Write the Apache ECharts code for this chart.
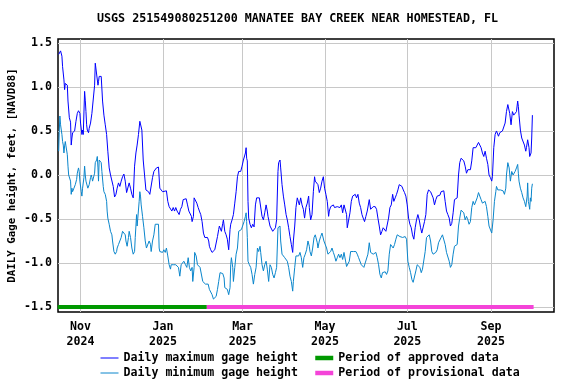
<!DOCTYPE html>
<html>
<head>
<meta charset="utf-8">
<script src="https://cdn.jsdelivr.net/npm/echarts@6/dist/echarts.min.js"></script>
<style>html,body{margin:0;padding:0;background:#fff}#c{width:576px;height:384px}</style>
</head>
<body>
<div id="c"></div>
<script>
// Days are counted from 2024-11-01 (day 0).
const titleText = 'USGS 251549080251200 MANATEE BAY CREEK NEAR HOMESTEAD, FL';
const yAxisName = 'DAILY Gage height, feet, [NAVD88]';
const tickDates = ['2024-11-01','2025-01-01','2025-03-01','2025-05-01','2025-07-01','2025-09-01'];
const tickMonths = ['Nov','Jan','Mar','May','Jul','Sep'];
const tickYears = ['2024','2025','2025','2025','2025','2025'];
const yTicks = [-1.5,-1.0,-0.5,0.0,0.5,1.0,1.5];
const axisStartDay = -16.7, axisEndDay = 350.6;
const yMin = -1.557, yMax = 1.545;
const approvedDays = [-16.9, 93.5];
const provisionalDays = [93.5, 335.5];
const periodLevel = -1.5;

const maxSeries = [
[-16.2,1.37],[-14.8,1.41],[-13.8,1.35],[-13.3,1.23],[-12.3,1.08],[-11.8,0.97],[-11.3,1.04],[-9.8,1.02],[-9.3,0.84],[-8.3,0.65],[-7.4,0.60],[-6.9,0.34],[-6.4,0.42],[-5.9,0.48],[-4.4,0.50],[-3.4,0.61],[-2.4,0.70],[-1.5,0.73],[-0.5,0.70],[0,0.59],[1.0,0.46],[1.5,0.51],[2.0,0.46],[3.0,0.95],[3.5,0.85],[4.0,0.72],[4.5,0.57],[5.0,0.51],[5.9,0.48],[6.4,0.53],[7.4,0.59],[8.4,0.70],[9.4,0.68],[10.4,1.02],[10.9,1.27],[11.9,1.25],[12.9,1.02],[13.3,1.06],[13.8,1.12],[15.3,1.12],[16.3,0.84],[17.3,0.68],[18.3,0.57],[19.3,0.46],[20.2,0.27],[21.2,0.08],[22.2,0.00],[23.2,-0.02],[24.2,-0.13],[25.2,-0.25],[26.2,-0.22],[27.1,-0.15],[28.1,-0.09],[29.1,-0.13],[30.1,-0.07],[31.1,-0.02],[32.1,0.01],[33.1,-0.07],[34.1,-0.20],[35.0,-0.19],[36.0,-0.09],[37.0,-0.15],[38.0,-0.22],[39.0,-0.26],[40.0,0.10],[41.0,0.25],[41.9,0.34],[42.9,0.46],[43.9,0.61],[44.4,0.63],[45.4,0.51],[46.4,0.17],[47.4,0.00],[48.4,-0.17],[49.3,-0.19],[50.3,-0.19],[51.3,-0.22],[52.3,-0.22],[53.3,-0.03],[54.3,0.04],[55.3,0.06],[56.2,0.08],[57.7,0.09],[58.7,-0.15],[59.7,-0.16],[60.7,-0.19],[61.7,-0.17],[63.6,-0.18],[64.6,-0.30],[65.6,-0.36],[66.6,-0.34],[67.6,-0.41],[68.6,-0.37],[69.6,-0.41],[70.5,-0.37],[71.5,-0.41],[73.0,-0.45],[74.0,-0.39],[75.0,-0.36],[76.0,-0.28],[76.9,-0.27],
[78.2,-0.27],[79.2,-0.34],[80.2,-0.41],[81.1,-0.39],[82.1,-0.47],[82.6,-0.53],[83.6,-0.47],[84.1,-0.26],[85.1,-0.28],[86.1,-0.32],[87.1,-0.37],[88.0,-0.41],[89.0,-0.45],[90.0,-0.53],[91.0,-0.66],[92.0,-0.71],[93.0,-0.70],[94.0,-0.71],[94.9,-0.75],[95.4,-0.81],[96.4,-0.85],[97.4,-0.88],[98.4,-0.87],[99.4,-0.85],[100.4,-0.83],[101.4,-0.70],[102.3,-0.62],[102.8,-0.58],[103.8,-0.56],[104.3,-0.64],[105.3,-0.55],[105.8,-0.51],[106.8,-0.64],[107.8,-0.68],[108.7,-0.73],[109.7,-0.85],[110.7,-0.62],[111.2,-0.56],[112.2,-0.51],[113.2,-0.45],[114.2,-0.32],[115.2,-0.19],[116.2,-0.02],[117.1,0.04],[118.6,0.04],[119.6,0.10],[120.6,0.17],[121.6,0.19],[122.1,0.25],[122.6,0.31],[123.0,0.19],[123.5,0.16],[124.0,-0.30],[124.5,-0.49],[125.5,-0.56],[126.5,-0.60],[127.5,-0.56],[128.5,-0.59],[129.5,-0.34],[130.4,-0.26],[131.4,-0.28],[132.4,-0.26],[133.4,-0.28],[134.4,-0.47],[135.4,-0.51],[136.4,-0.43],[137.4,-0.34],[138.3,-0.41],[138.8,-0.47],[139.8,-0.49],[140.3,-0.58],[141.3,-0.60],[142.3,-0.64],[143.3,-0.62],[144.3,-0.60],[145.2,-0.51],[146.2,0.04],[146.7,0.14],[147.7,0.17],[148.2,0.08],[149.2,-0.11],[150.2,-0.24],[151.2,-0.34],[152.2,-0.45],[153.1,-0.51],[154.1,-0.60],[155.1,-0.70],[156.1,-0.79],[157.1,-0.88],[157.6,-0.75],[158.6,-0.58],[159.5,-0.37],[160.5,-0.26],[161.5,-0.26],[162.0,-0.34],[163.0,-0.26],[164.0,-0.34],[165.0,-0.39],[165.9,-0.49],[166.9,-0.37],[167.9,-0.32],[168.9,-0.24],[169.4,-0.37],
[170.4,-0.51],[171.4,-0.45],[172.4,-0.19],[173.3,-0.02],[173.8,-0.07],[174.8,-0.05],[175.8,-0.11],[176.8,-0.20],[177.8,-0.15],[178.8,-0.07],[179.8,-0.02],[180.7,-0.15],[181.7,-0.22],[182.7,-0.30],[183.7,-0.47],[184.2,-0.41],[185.2,-0.36],[186.2,-0.37],[187.2,-0.34],[188.1,-0.37],[189.1,-0.38],[190.1,-0.36],[191.1,-0.34],[192.1,-0.37],[193.1,-0.34],[194.1,-0.43],[195.1,-0.34],[196.0,-0.34],[197.0,-0.45],[197.5,-0.60],[198.5,-0.58],[199.5,-0.43],[200.5,-0.30],[201.5,-0.24],[202.5,-0.26],[203.4,-0.22],[204.4,-0.26],[205.4,-0.22],[206.4,-0.32],[207.4,-0.37],[208.4,-0.45],[209.3,-0.49],[210.3,-0.53],[211.3,-0.47],[212.3,-0.41],[213.3,-0.43],[213.8,-0.28],[214.8,-0.39],[215.8,-0.37],[216.7,-0.36],[218.2,-0.36],[219.2,-0.39],[220.2,-0.49],[221.2,-0.58],[222.2,-0.68],[223.2,-0.64],[224.1,-0.60],[225.1,-0.62],[226.1,-0.64],[227.1,-0.62],[228.1,-0.49],[229.1,-0.37],[230.1,-0.34],[231.1,-0.22],[232.0,-0.30],[233.0,-0.26],[234.0,-0.22],[235.0,-0.17],[236.0,-0.11],[237.0,-0.10],[238.0,-0.13],[239.0,-0.17],[239.9,-0.20],[240.9,-0.24],[241.9,-0.34],[242.9,-0.49],[243.9,-0.56],[244.9,-0.60],[245.8,-0.68],[246.8,-0.73],[247.8,-0.60],[248.8,-0.51],[249.8,-0.45],[250.8,-0.51],[251.8,-0.60],[252.7,-0.66],[253.7,-0.68],[254.7,-0.53],[255.7,-0.45],[256.7,-0.22],[257.7,-0.17],[258.7,-0.15],
[259.2,-0.19],[260.1,-0.20],[261.1,-0.26],[262.1,-0.34],[263.1,-0.28],[264.1,-0.24],[265.1,-0.22],[266.1,-0.23],[267.0,-0.19],[268.0,-0.17],[269.0,-0.18],[270.0,-0.30],[271.0,-0.41],[272.0,-0.45],[273.0,-0.49],[273.9,-0.58],[274.9,-0.55],[275.9,-0.43],[276.9,-0.28],[277.9,-0.26],[278.9,-0.26],[279.9,0.00],[280.8,0.14],[281.8,0.19],[282.8,0.21],[283.8,0.16],[284.8,0.10],[285.8,0.02],[286.8,0.06],[287.7,0.04],[288.7,0.06],[289.7,0.16],[290.7,0.31],[291.7,0.29],[292.7,0.31],[293.7,0.34],[294.7,0.37],[295.6,0.36],[296.6,0.31],[297.6,0.25],[298.6,0.21],[299.6,0.27],[300.6,0.19],[301.6,0.12],[302.5,0.00],[303.5,-0.03],[304.5,-0.07],[305.0,-0.02],[306.0,0.31],[307.0,0.46],[308.0,0.50],[309.0,0.51],[309.5,0.44],[310.4,0.48],[311.4,0.48],[312.4,0.50],[313.4,0.51],[314.4,0.59],[315.4,0.72],[316.4,0.80],[317.4,0.79],[317.8,0.70],[318.8,0.57],[319.8,0.72],[320.8,0.68],[321.8,0.67],[322.8,0.72],[323.7,0.84],[324.2,0.78],[324.7,0.68],[325.7,0.51],[326.7,0.42],[327.7,0.40],[328.7,0.34],[329.7,0.27],[330.2,0.31],[331.1,0.40],[332.1,0.31],[332.6,0.21],[333.6,0.25],[334.1,0.42],[334.6,0.68]
];

const minSeries = [
[-16.2,0.27],[-15.8,0.48],[-15.3,0.67],[-14.8,0.57],[-14.3,0.59],[-13.8,0.46],[-13.3,0.38],[-12.8,0.34],[-12.3,0.25],[-11.8,0.33],[-11.3,0.38],[-10.8,0.33],[-10.3,0.31],[-9.8,0.23],[-9.3,0.10],[-8.8,0.00],[-7.9,-0.02],[-7.4,-0.07],[-6.9,-0.22],[-6.4,-0.15],[-5.9,-0.19],[-4.9,-0.15],[-3.9,-0.11],[-2.9,-0.05],[-2.4,0.02],[-1.5,0.08],[-1.0,0.04],[-0.5,-0.07],[0.5,-0.19],[1.0,-0.24],[1.5,-0.15],[2.5,-0.03],[3.0,0.10],[3.5,0.00],[4.0,-0.07],[4.5,-0.09],[5.4,-0.15],[5.9,-0.17],[6.4,-0.11],[7.4,-0.03],[7.9,0.00],[8.4,-0.03],[8.9,-0.07],[9.9,-0.07],[10.4,0.02],[10.9,0.14],[11.9,0.17],[12.4,0.21],[12.9,0.08],[13.3,-0.07],[13.8,0.17],[14.8,0.19],[15.3,0.14],[15.8,0.04],[16.8,-0.13],[17.3,-0.19],[18.3,-0.22],[19.3,-0.30],[19.7,-0.41],[20.2,-0.49],[21.2,-0.56],[22.2,-0.64],[23.2,-0.68],[23.7,-0.75],[24.7,-0.87],[25.7,-0.90],[26.7,-0.87],[27.1,-0.83],[28.1,-0.79],[29.1,-0.77],[30.1,-0.71],[31.1,-0.64],[32.1,-0.64],[33.1,-0.68],[33.6,-0.75],[34.5,-0.81],[35.5,-0.71],[36.0,-0.64],[37.0,-0.71],[38.0,-0.83],[39.0,-0.90],[40.0,-0.87],[40.5,-0.71],[41.5,-0.45],[41.9,-0.58],[42.4,-0.49],[43.4,-0.30],[43.9,-0.19],[44.4,-0.24],[44.9,-0.34],[45.9,-0.47],[46.9,-0.60],[47.9,-0.75],[48.8,-0.83],[49.8,-0.83],[50.8,-0.75],[51.8,-0.79],[52.3,-0.87],[53.3,-0.75],[54.3,-0.68],[55.3,-0.56],[56.2,-0.56],[57.7,-0.56],[58.2,-0.83],[58.7,-0.87],[59.7,-0.85],[60.7,-0.88],[61.7,-0.85],[62.7,-0.88],[63.6,-0.83],[64.6,-0.92],[65.6,-1.02],[66.6,-1.07],[67.1,-1.02],[67.6,-1.04],[68.6,-1.02],[69.6,-1.04],[70.5,-1.02],[71.5,-1.02],[72.5,-1.05],[73.5,-1.15],[74.5,-1.02],[75.5,-1.00],[76.5,-0.98],[76.9,-1.00],
[77.2,-0.96],[77.7,-1.02],[78.7,-1.05],[79.7,-0.94],[80.6,-1.05],[81.6,-1.09],[82.6,-1.05],[83.1,-1.21],[84.1,-1.05],[84.5,-0.88],[85.6,-0.92],[86.6,-1.02],[87.5,-1.00],[88.5,-1.05],[89.5,-1.05],[90.5,-1.21],[91.5,-1.22],[92.5,-1.24],[93.5,-1.26],[94.5,-1.24],[95.4,-1.30],[96.4,-1.28],[97.4,-1.36],[98.4,-1.41],[99.4,-1.40],[100.4,-1.38],[101.4,-1.30],[102.3,-1.21],[103.3,-1.11],[104.3,-1.13],[105.3,-1.12],[106.3,-1.17],[106.8,-1.28],[107.8,-1.26],[108.7,-1.30],[109.7,-1.36],[110.7,-1.28],[111.2,-1.02],[111.7,-0.94],[112.7,-1.05],[113.2,-1.21],[114.2,-1.05],[115.2,-0.90],[116.2,-0.83],[117.1,-0.64],[118.1,-0.64],[119.1,-0.62],[120.1,-0.60],[121.1,-0.53],[122.1,-0.47],[122.6,-0.43],[123.0,-0.53],[123.5,-0.71],[124.0,-0.98],[125.0,-1.02],[126.0,-1.05],[127.0,-1.13],[128.0,-1.24],[129.0,-1.13],[130.0,-1.05],[131.0,-0.83],[131.9,-0.87],[132.9,-0.81],[133.4,-0.88],[134.4,-1.02],[135.4,-1.09],[136.4,-1.02],[137.4,-0.98],[138.3,-1.07],[139.3,-1.21],[140.3,-1.02],[141.3,-1.05],[142.3,-1.13],[143.3,-1.17],[144.3,-1.11],[145.2,-1.05],[146.2,-0.60],[146.7,-0.58],[147.7,-0.58],[148.2,-0.75],[149.2,-0.90],[150.2,-0.92],[151.2,-0.94],[152.2,-0.92],[153.1,-0.98],[154.1,-1.05],[155.1,-1.15],[156.1,-1.21],[157.1,-1.32],[157.6,-1.21],[158.6,-1.05],[159.5,-0.92],[160.5,-0.90],[161.5,-0.92],[162.5,-0.88],[163.5,-0.94],[164.5,-1.05],[165.4,-0.94],[166.4,-0.90],[167.4,-0.85],[168.4,-0.75],[169.4,-0.81],
[169.9,-0.87],[170.9,-0.92],[171.9,-0.83],[172.9,-0.71],[173.8,-0.68],[174.3,-0.70],[175.3,-0.77],[175.8,-0.83],[176.8,-0.75],[177.8,-0.70],[178.8,-0.66],[179.8,-0.68],[180.2,-0.75],[181.2,-0.73],[182.2,-0.83],[183.2,-0.90],[184.2,-0.90],[185.2,-0.87],[186.2,-0.83],[187.2,-0.88],[188.1,-0.92],[189.1,-0.98],[190.1,-0.94],[191.1,-0.90],[192.1,-0.94],[193.1,-0.90],[194.1,-0.96],[195.1,-0.88],[196.0,-0.90],[197.0,-1.04],[198.0,-1.02],[199.0,-0.98],[200.0,-0.87],[201.0,-0.85],[202.0,-0.87],[202.9,-0.85],[203.9,-0.87],[204.9,-0.90],[205.9,-0.94],[206.9,-0.96],[207.9,-1.02],[208.9,-1.02],[209.8,-1.05],[210.8,-1.00],[211.8,-1.02],[212.8,-0.90],[213.8,-0.77],[214.8,-0.88],[215.8,-0.90],[216.7,-0.90],[217.7,-0.88],[218.7,-0.88],[219.7,-0.94],[220.7,-1.02],[221.7,-1.13],[222.7,-1.17],[223.6,-1.11],[224.6,-1.13],[225.6,-1.10],[226.6,-1.13],[227.6,-1.09],[228.6,-0.90],[229.6,-0.79],[230.6,-0.77],[231.5,-0.83],[232.5,-0.79],[233.5,-0.73],[234.5,-0.68],[235.5,-0.70],[236.5,-0.70],[237.5,-0.70],[238.5,-0.71],[239.4,-0.73],[240.4,-0.70],[241.4,-0.73],[242.4,-0.98],[243.4,-1.05],[244.4,-1.11],[245.4,-1.19],[246.3,-1.22],[247.3,-1.21],[248.3,-1.09],[249.3,-1.02],[250.3,-1.00],[251.3,-1.05],[252.3,-1.11],[253.2,-1.07],[254.2,-1.05],[255.2,-0.87],[256.2,-0.71],[257.2,-0.70],[258.2,-0.68],
[259.2,-0.75],[260.1,-0.87],[261.1,-0.90],[262.1,-0.92],[263.1,-0.88],[264.1,-0.85],[265.1,-0.77],[266.1,-0.75],[267.0,-0.71],[268.0,-0.68],[269.0,-0.68],[270.0,-0.79],[271.0,-0.88],[272.0,-0.90],[273.0,-0.98],[273.9,-1.05],[274.9,-1.02],[275.9,-0.90],[276.9,-0.81],[277.9,-0.83],[278.9,-0.79],[279.9,-0.58],[280.8,-0.49],[281.8,-0.40],[282.8,-0.39],[283.8,-0.43],[284.8,-0.51],[285.8,-0.47],[286.8,-0.51],[287.7,-0.56],[288.7,-0.53],[289.7,-0.37],[290.7,-0.30],[291.7,-0.34],[292.7,-0.32],[293.7,-0.26],[294.7,-0.20],[295.6,-0.22],[296.6,-0.28],[297.6,-0.32],[298.6,-0.34],[299.6,-0.30],[300.6,-0.36],[301.6,-0.47],[302.5,-0.58],[303.5,-0.60],[304.5,-0.66],[305.5,-0.51],[306.5,-0.30],[307.5,-0.19],[308.0,-0.13],[309.0,-0.17],[309.9,-0.19],[310.9,-0.17],[311.9,-0.19],[312.9,-0.18],[313.9,-0.22],[314.9,-0.15],[315.4,0.00],[316.4,0.14],[317.4,0.08],[318.3,-0.07],[319.3,0.04],[320.3,0.00],[321.3,-0.02],[321.8,0.04],[322.8,0.08],[323.7,0.12],[324.2,0.02],[324.7,-0.07],[325.7,-0.15],[326.7,-0.20],[327.7,-0.26],[328.7,-0.30],[329.7,-0.36],[330.7,-0.24],[331.1,-0.09],[331.6,-0.30],[332.1,-0.34],[332.6,-0.39],[333.1,-0.26],[333.6,-0.30],[334.1,-0.15],[334.6,-0.10]
];

const DAY = 86400000;
const day0 = Date.UTC(2024, 10, 1);
const toTime = d => day0 + d * DAY;
const toPoints = arr => arr.map(p => [toTime(p[0]), p[1]]);
const tickTimes = tickDates.map(s => { const a = s.split('-').map(Number); return Date.UTC(a[0], a[1]-1, a[2]); });
const labelFor = v => { let best = -1, bd = Infinity; tickTimes.forEach((t, i) => { const d = Math.abs(t - v); if (d < bd) { bd = d; best = i; } }); return bd < DAY ? tickMonths[best] + '\n' + tickYears[best] : ''; };

const FONT = 'DejaVu Sans Mono';
const legendText = {fontFamily: FONT, fontSize: 11.6, fontWeight: 'bold', color: '#000', lineHeight: 14};
const chart = echarts.init(document.getElementById('c'), null, {renderer: 'canvas'});
chart.setOption({
  animation: false,
  backgroundColor: '#ffffff',
  title: {
    text: titleText, left: 97, top: 13, padding: 0,
    textStyle: {fontFamily: FONT, fontSize: 11.7, fontWeight: 'bold', color: '#000'}
  },
  grid: {left: 58, right: 22, top: 39, bottom: 72, show: true, borderColor: '#000', borderWidth: 1.5,
         backgroundColor: 'transparent', containLabel: false, outerBoundsMode: 'none'},
  xAxis: {
    type: 'value', min: toTime(axisStartDay), max: toTime(axisEndDay), scale: true,
    axisLine: {show: false}, axisTick: {show: false, customValues: tickTimes},
    splitLine: {show: true, lineStyle: {color: '#c8c8c8', width: 1}},
    axisLabel: {
      customValues: tickTimes, margin: 7, lineHeight: 15,
      fontFamily: FONT, fontSize: 11.6, fontWeight: 'bold', color: '#000',
      formatter: labelFor
    }
  },
  yAxis: {
    type: 'value', min: yMin, max: yMax,
    name: yAxisName, nameLocation: 'middle', nameGap: 40, nameMoveOverlap: false,
    nameTextStyle: {fontFamily: FONT, fontSize: 10.8, fontWeight: 'bold', color: '#000'},
    axisLine: {show: false}, axisTick: {show: false, customValues: yTicks},
    splitLine: {show: true, lineStyle: {color: '#c8c8c8', width: 1}},
    axisLabel: {customValues: yTicks, margin: 6, fontFamily: FONT, fontSize: 11.6, fontWeight: 'bold', color: '#000',
      formatter: v => Number(v).toFixed(1)}
  },
  legend: [
    {data: ['Daily maximum gage height', 'Daily minimum gage height'], orient: 'vertical', left: 100, top: 351, padding: 0,
     itemWidth: 18, itemHeight: 5, itemGap: 1, itemStyle: {color: 'rgba(0,0,0,0)', borderWidth: 0}, lineStyle: {width: 1}, textStyle: legendText},
    {data: ['Period of approved data', 'Period of provisional data'], orient: 'vertical', left: 313, top: 351, padding: 0,
     itemWidth: 18, itemHeight: 5, itemGap: 1, itemStyle: {color: 'rgba(0,0,0,0)', borderWidth: 0}, lineStyle: {width: 4.5}, textStyle: legendText}
  ],
  series: [
    {name: 'Period of approved data', type: 'line', symbol: 'none', clip: false, data: approvedDays.map(d => [toTime(d), periodLevel]), lineStyle: {color: '#009900', width: 4}, itemStyle: {color: '#009900'}},
    {name: 'Period of provisional data', type: 'line', symbol: 'none', clip: false, data: provisionalDays.map(d => [toTime(d), periodLevel]), lineStyle: {color: '#f444d8', width: 4}, itemStyle: {color: '#f444d8'}},
    {name: 'Daily minimum gage height', type: 'line', symbol: 'none', data: toPoints(minSeries), lineStyle: {color: '#0a86cc', width: 1}, itemStyle: {color: '#0a86cc'}},
    {name: 'Daily maximum gage height', type: 'line', symbol: 'none', data: toPoints(maxSeries), lineStyle: {color: '#0000ff', width: 1}, itemStyle: {color: '#0000ff'}}
  ]
});
</script>
</body>
</html>
